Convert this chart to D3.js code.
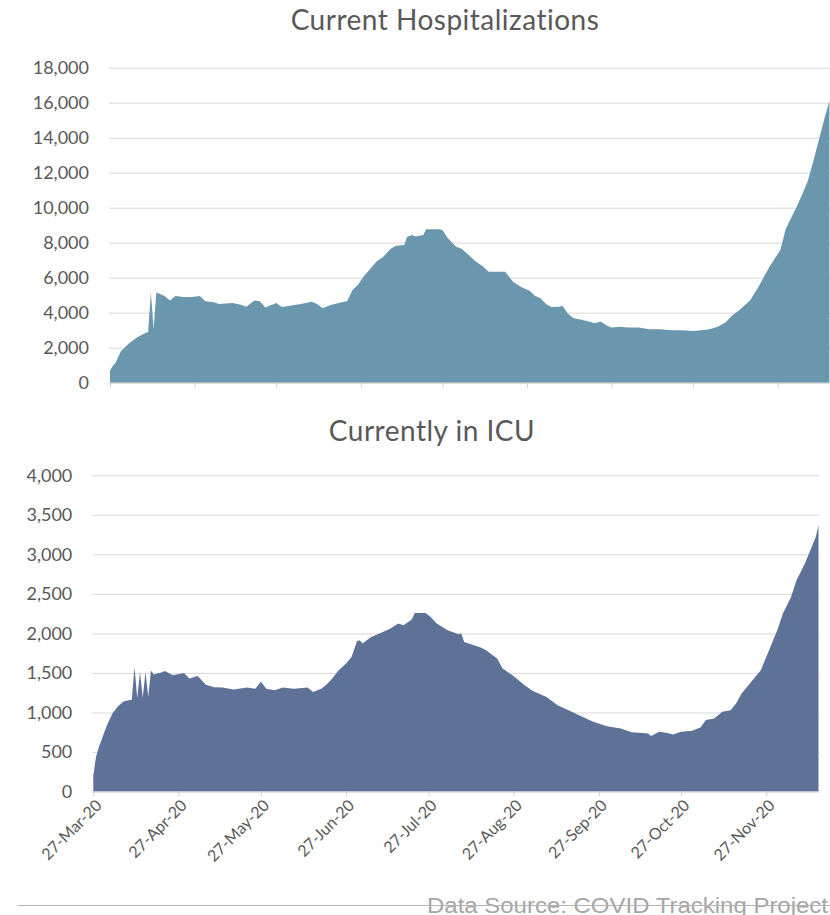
<!DOCTYPE html>
<html>
<head>
<meta charset="utf-8">
<script src="https://cdnjs.cloudflare.com/ajax/libs/d3/7.8.5/d3.min.js"></script>
<style>
  body { margin: 0; background: #fff; }
  text { font-family: Lato, "Open Sans", sans-serif; fill: #595959; }
</style>
</head>
<body>
<svg width="830" height="915"></svg>
<script>
// day offsets counted from 27-Mar-20
const startDate = new Date(2020, 2, 27);
const lastDay = 264;

const hospitalized = [
  [0, 700], [1, 950], [2, 1130], [4, 1800], [7, 2250], [10, 2600], [13, 2840], [14, 2900],
  [15, 5150], [16, 3050], [17, 5150], [18, 5100], [20, 4950], [22, 4700], [24, 4950], [27, 4900],
  [30, 4900], [33, 4950], [35, 4650], [38, 4600], [40, 4500], [45, 4550], [48, 4450], [50, 4340],
  [53, 4700], [55, 4650], [57, 4300], [61, 4550], [63, 4320], [66, 4400], [70, 4500], [74, 4630],
  [76, 4500], [78, 4250], [81, 4440], [85, 4600], [87, 4650], [89, 5300], [91, 5600], [93, 6060],
  [96, 6600], [98, 6950], [100, 7150], [103, 7650], [105, 7830], [108, 7870], [109, 8340], [111, 8440],
  [112, 8350], [115, 8440], [116, 8770], [121, 8770], [122, 8730], [124, 8250], [127, 7770], [129, 7650],
  [131, 7390], [134, 6950], [137, 6630], [139, 6340], [145, 6340], [148, 5750], [151, 5450], [154, 5250],
  [156, 4950], [158, 4820], [160, 4500], [162, 4330], [165, 4340], [166, 4400], [168, 3950], [170, 3700],
  [173, 3600], [176, 3480], [178, 3400], [180, 3500], [182, 3300], [184, 3150], [187, 3200], [190, 3150],
  [194, 3150], [198, 3050], [202, 3050], [206, 3000], [210, 3000], [214, 2950], [217, 3000], [220, 3050],
  [223, 3200], [226, 3450], [228, 3800], [231, 4150], [235, 4730], [238, 5490], [242, 6630], [246, 7580],
  [248, 8800], [252, 10060], [254, 10750], [256, 11500], [258, 12600], [260, 13800], [262, 15000], [264, 16100]
];

const inICU = [
  [0, 200], [1, 440], [2, 560], [3, 650], [4, 750], [5, 840], [7, 990], [9, 1080],
  [11, 1140], [13, 1155], [14, 1160], [15, 1576], [16, 1180], [17, 1513], [18, 1190], [19, 1513],
  [20, 1200], [21, 1530], [22, 1480], [25, 1510], [26, 1525], [29, 1470], [33, 1500], [35, 1430],
  [38, 1460], [41, 1350], [44, 1320], [47, 1315], [51, 1290], [56, 1315], [59, 1300], [61, 1387],
  [63, 1300], [66, 1280], [69, 1315], [73, 1300], [78, 1315], [80, 1260], [83, 1300], [85, 1358],
  [87, 1430], [89, 1520], [92, 1620], [94, 1700], [96, 1900], [97, 1913], [98, 1872], [101, 1950],
  [105, 2010], [108, 2060], [111, 2124], [113, 2103], [116, 2180], [117, 2258], [121, 2258], [123, 2200],
  [125, 2124], [129, 2040], [133, 1990], [134, 1998], [135, 1892], [141, 1821], [143, 1787], [147, 1682],
  [149, 1556], [153, 1460], [157, 1345], [160, 1270], [165, 1197], [169, 1092], [173, 1029], [178, 945],
  [182, 882], [187, 827], [192, 798], [196, 750], [200, 740], [202, 735], [203, 701], [206, 755],
  [209, 740], [211, 720], [214, 755], [218, 768], [221, 810], [223, 903], [226, 924], [229, 1008],
  [232, 1029], [234, 1114], [236, 1240], [239, 1366], [243, 1535], [246, 1787], [249, 2040], [251, 2250],
  [254, 2460], [256, 2671], [259, 2882], [261, 3050], [263, 3218], [264, 3366]
];

const tickDates = ["2020-03-27", "2020-04-27", "2020-05-27", "2020-06-27", "2020-07-27",
  "2020-08-27", "2020-09-27", "2020-10-27", "2020-11-27"];

const hospTicks = [0, 2000, 4000, 6000, 8000, 10000, 12000, 14000, 16000, 18000];
const icuTicks = [0, 500, 1000, 1500, 2000, 2500, 3000, 3500, 4000];

const svg = d3.select("svg");
const parseDay = d3.timeParse("%Y-%m-%d");
const fmtDay = d3.timeFormat("%d-%b-%y");
const tickDateObjs = tickDates.map(parseDay);

function drawPanel(opts) {
  const g = svg.append("g");
  const x = d3.scaleTime()
    .domain([startDate, d3.timeDay.offset(startDate, lastDay)])
    .range([opts.left, opts.right]);
  const y = d3.scaleLinear()
    .domain([0, opts.max])
    .range([opts.bottom, opts.top]);

  // gridlines + y labels
  const yAxis = g.append("g")
    .attr("transform", `translate(${opts.left - 1},0)`)
    .call(d3.axisLeft(y)
      .tickValues(opts.ticks)
      .tickSize(-(opts.gridRight - opts.left + 1))
      .tickPadding(20)
      .tickFormat(d3.format(",")));
  yAxis.select(".domain").remove();
  yAxis.selectAll("line").attr("stroke", "#d9d9d9");
  yAxis.selectAll("text")
    .attr("font-size", 18)
    .attr("fill", "#595959");

  // area
  const data = opts.data.map(d => ({ date: d3.timeDay.offset(startDate, d[0]), v: d[1] }));
  g.append("path")
    .datum(data)
    .attr("fill", opts.color)
    .attr("d", d3.area()
      .x(d => x(d.date))
      .y0(y(0))
      .y1(d => y(d.v)));

  // x axis line and ticks
  const xAxis = g.append("g")
    .attr("transform", `translate(0,${opts.bottom})`)
    .call(d3.axisBottom(x)
      .tickValues(tickDateObjs)
      .tickSizeOuter(0)
      .tickSize(5)
      .tickFormat(opts.labels ? fmtDay : ""));
  xAxis.select(".domain")
    .attr("stroke", "#d9d9d9")
    .attr("d", `M${opts.left - 1},0.5H${opts.gridRight}`);
  xAxis.selectAll("line").attr("stroke", "#d0d0d0");

  if (opts.labels) {
    xAxis.selectAll("text")
      .attr("font-size", 16)
      .attr("fill", "#595959")
      .attr("text-anchor", "end")
      .attr("transform", "translate(1,7) rotate(-45)")
      .attr("x", 0)
      .attr("y", 0)
      .attr("dy", "0.7em");
  }

  svg.append("text")
    .attr("x", opts.titleX)
    .attr("y", opts.titleY)
    .attr("text-anchor", "middle")
    .attr("font-size", 28)
    .attr("letter-spacing", 0.5)
    .attr("fill", "#595959")
    .text(opts.title);
}

drawPanel({
  title: "Current Hospitalizations", titleX: 445, titleY: 30,
  data: hospitalized, max: 18000, ticks: hospTicks,
  left: 110, right: 829.4, gridRight: 830, top: 67.7, bottom: 382.7,
  color: "#6a97ae", labels: false
});

drawPanel({
  title: "Currently in ICU", titleX: 432, titleY: 441,
  data: inICU, max: 4000, ticks: icuTicks,
  left: 93.3, right: 818.5, gridRight: 819.5, top: 475.3, bottom: 791.5,
  color: "#5e7298", labels: true
});

// source note, the rule runs through it
svg.append("text")
  .attr("x", 427)
  .attr("y", 913)
  .style("font-family", "'Liberation Sans', Arial, sans-serif")
  .attr("font-size", 22)
  .attr("textLength", 401)
  .attr("lengthAdjust", "spacingAndGlyphs")
  .style("fill", "#a6a6a6")
  .text("Data Source: COVID Tracking Project");

svg.append("line")
  .attr("x1", 18).attr("x2", 830)
  .attr("y1", 905.5).attr("y2", 905.5)
  .attr("stroke", "#b4b4b4")
  .attr("stroke-width", 1.2);
</script>
</body>
</html>
